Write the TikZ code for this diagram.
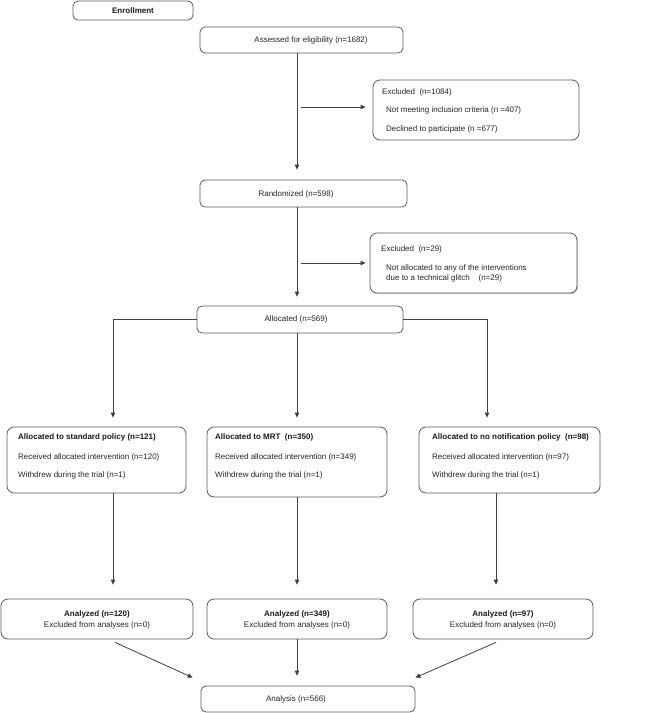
\documentclass[tikz,border=0pt]{standalone}
\usepackage{fontspec}
\setmainfont{Liberation Sans}
\usetikzlibrary{arrows.meta,calc,shadows}
\begin{document}
\begin{tikzpicture}[x=1pt,y=-1pt,
  box/.style={draw=black!65, line width=0.8pt, rounded corners=7pt, fill=white, inner sep=0pt},
  txt/.style={inner sep=0pt, font=\fontsize{8}{9.6}\selectfont, text=black!85},
  btxt/.style={inner sep=0pt, font=\fontsize{8}{9.6}\selectfont\bfseries, text=black!90},
  arr/.style={draw=black!75, line width=0.8pt, -{Triangle[length=5pt,width=4.5pt]}},
]
\useasboundingbox[fill=white] (0,0) rectangle (660,713);

% boxes
\node[box, rounded corners=5pt, minimum width=120, minimum height=19] (enroll) at (133,10.5) {};
\node[box, rounded corners=5pt, minimum width=203, minimum height=26] (assess) at (301.5,40) {};
\node[box, minimum width=206, minimum height=60] (excl1) at (476,110) {};
\node[box, rounded corners=5pt, minimum width=207, minimum height=27] (rand) at (303.5,193.5) {};
\node[box, minimum width=207, minimum height=60, drop shadow={shadow xshift=1.2pt, shadow yshift=-1.2pt, opacity=0.35}] (excl2) at (473.5,263) {};
\node[box, rounded corners=5pt, minimum width=206, minimum height=27] (alloc) at (300,319.5) {};
\node[box, minimum width=179, minimum height=66] (boxL) at (96.5,460) {};
\node[box, minimum width=180, minimum height=70] (boxM) at (297,462) {};
\node[box, minimum width=181, minimum height=66] (boxR) at (509.5,460) {};
\node[box, minimum width=192, minimum height=40] (anL) at (97,619) {};
\node[box, minimum width=180, minimum height=40] (anM) at (297,619) {};
\node[box, minimum width=180, minimum height=40] (anR) at (503,619) {};
\node[box, rounded corners=5pt, minimum width=214, minimum height=26] (analysis) at (308,699) {};

% texts
\node[btxt] (tEnroll) at (133,10.5) {Enrollment};
\node[txt] (tAssess) at (311,40) {Assessed for eligibility (n=1682)};
\node[txt, anchor=west] (tEx1a) at (382,92) {Excluded\ \ (n=1084)};
\node[txt, anchor=west] (tEx1b) at (386,110) {Not meeting inclusion criteria (n =407)};
\node[txt, anchor=west] (tEx1c) at (386,129) {Declined to participate (n =677)};
\node[txt] (tRand) at (296,194) {Randomized (n=598)};
\node[txt, anchor=west] (tEx2a) at (381,249) {Excluded\ \ (n=29)};
\node[txt, anchor=west] (tEx2b) at (386,268) {Not allocated to any of the interventions};
\node[txt, anchor=west] (tEx2c) at (386,278.5) {due to a technical glitch\ \ \ \ (n=29)};
\node[txt] (tAlloc) at (296,319.5) {Allocated (n=569)};

\node[btxt, anchor=west] (tLa) at (18,437) {Allocated to standard policy (n=121)};
\node[txt, anchor=west] (tLb) at (18,457) {Received allocated intervention (n=120)};
\node[txt, anchor=west] (tLc) at (18,475.5) {Withdrew during the trial (n=1)};
\node[btxt, anchor=west] (tMa) at (215,437) {Allocated to MRT\ \ (n=350)};
\node[txt, anchor=west] (tMb) at (215,457) {Received allocated intervention (n=349)};
\node[txt, anchor=west] (tMc) at (215,475.5) {Withdrew during the trial (n=1)};
\node[btxt, anchor=west] (tRa) at (432,437) {Allocated to no notification policy\ \ (n=98)};
\node[txt, anchor=west] (tRb) at (432,457) {Received allocated intervention (n=97)};
\node[txt, anchor=west] (tRc) at (432,475.5) {Withdrew during the trial (n=1)};

\node[btxt] (tAnLa) at (97,614) {Analyzed (n=120)};
\node[txt] (tAnLb) at (97,625) {Excluded from analyses (n=0)};
\node[btxt] (tAnMa) at (297,614) {Analyzed (n=349)};
\node[txt] (tAnMb) at (297,625) {Excluded from analyses (n=0)};
\node[btxt] (tAnRa) at (503,614) {Analyzed (n=97)};
\node[txt] (tAnRb) at (503,625) {Excluded from analyses (n=0)};
\node[txt] (tAnalysis) at (296,699) {Analysis (n=566)};

% connectors
\coordinate (cA) at (297,0);
\coordinate (cL) at (113,0);
\coordinate (cR1) at (487,0);
\coordinate (cR2) at (496,0);
\coordinate (e1) at (301,107);
\coordinate (e2) at (301,263);

\draw[arr, shorten >=10pt] (cA |- assess.south) -- (cA |- rand.north);
\draw[arr, shorten >=7pt] (e1) -- (e1 -| excl1.west);
\draw[arr, shorten >=9pt] (cA |- rand.south) -- (cA |- alloc.north);
\draw[arr, shorten >=4pt] (e2) -- (e2 -| excl2.west);
\draw[arr, shorten >=9pt] (alloc.west) -| (cL |- boxL.north);
\draw[arr, shorten >=9pt] (alloc.east) -| (cR1 |- boxR.north);
\draw[arr, shorten >=9pt] (cA |- alloc.south) -- (cA |- boxM.north);
\draw[arr, shorten >=14pt] (cL |- boxL.south) -- (cL |- anL.north);
\draw[arr, shorten >=14pt] (cA |- boxM.south) -- (cA |- anM.north);
\draw[arr, shorten >=14pt] (cR2 |- boxR.south) -- (cR2 |- anR.north);
\draw[arr] ($(anL.south)+(18,3)$) -- ($(analysis.north west)+(-8,-8)$);
\draw[arr, shorten >=10pt] (cA |- anM.south) -- (cA |- analysis.north);
\draw[arr] ($(anR.south)+(-7,3)$) -- ($(analysis.north east)+(0,-8)$);
\end{tikzpicture}
\end{document}
